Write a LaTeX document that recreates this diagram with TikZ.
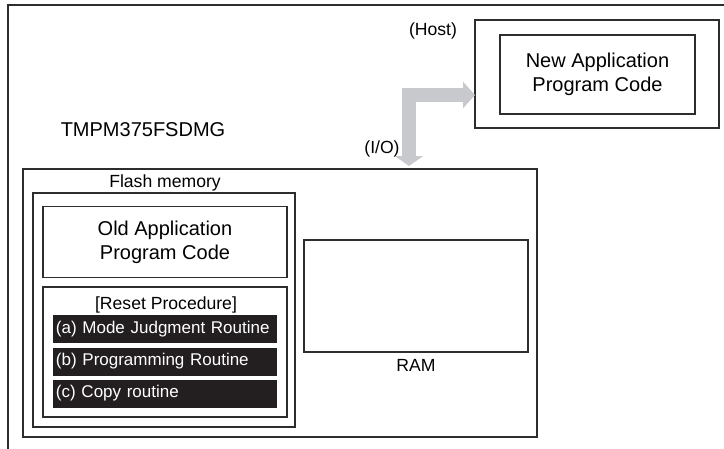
\documentclass[tikz,border=0pt]{standalone}
\usepackage{fontspec}
\setmainfont{Liberation Sans}
\usepackage{xcolor}
\usetikzlibrary{arrows.meta}
\definecolor{linegray}{RGB}{45,45,45}
\definecolor{iogray}{RGB}{200,201,204}
\definecolor{barblack}{RGB}{35,31,32}

\begin{document}
\begin{tikzpicture}[x=1pt,y=-1pt,
  frame/.style={draw=linegray, line width=1.8pt, inner sep=0pt, outer sep=0pt},
  routine/.style={fill=barblack, text=white, minimum height=28pt, text width=218pt,
    inner sep=3pt, align=left, font=\fontsize{17}{20}\selectfont},
  lbl/.style={font=\fontsize{17.6}{20}\selectfont, inner sep=0pt},
  big/.style={font=\fontsize{20}{24}\selectfont, align=center},
  ioarrow/.style={draw=iogray, line width=13.5pt, line join=miter,
    {Triangle[length=12pt,width=26pt]}-{Triangle[length=10pt,width=28pt]}}]
\useasboundingbox (0,0) rectangle (724,448);
\clip (0,0) rectangle (724,448);
% ---- outer frame (runs off the page) ----
\draw[linegray, line width=1.8pt] (8,460) -- (8,5) -- (740,5);
% ---- host side ----
\node[frame, minimum width=244pt, minimum height=108pt] (host) at (597,74) {};
\node[frame, big, minimum width=195pt, minimum height=79pt] (newcode) at (597.5,74.5) {New Application\\Program Code};
\node[lbl] (hostlbl) at (433,31) {(Host)};
% ---- device ----
\node[big] (chiplbl) at (143,129.5) {TMPM375FSDMG};
\node[lbl] (iolbl) at (382,149) {(I/O)};
\node[frame, minimum width=514pt, minimum height=268pt] (chip) at (280,303) {};
% flash memory
\node[lbl] (flashlbl) at (165,183) {Flash memory};
\node[frame, minimum width=262pt, minimum height=234pt] (flash) at (164,310) {};
\node[frame, big, minimum width=244pt, minimum height=71pt] (oldcode) at (165,242) {Old Application\\Program Code};
\node[frame, minimum width=244pt, minimum height=130pt] (reset) at (165,352) {};
\node[lbl] (resetlbl) at (166,305) {[Reset Procedure]};
\node[routine] (modej) at (165,329) {(a) Mode Judgment Routine};
\node[routine] (prog) at (165,361.5) {(b) Programming Routine};
\node[routine] (copyr) at (165,393.5) {(c) Copy routine};
% RAM
\node[frame, minimum width=224pt, minimum height=112pt] (ram) at (416,296) {};
\node[lbl] (ramlbl) at (416,365) {RAM};
% ---- host <-> device transfer ----
\draw[ioarrow] ([yshift=-21pt]host.west) -| ([xshift=129pt,yshift=3pt]chip.north);
\end{tikzpicture}
\end{document}
